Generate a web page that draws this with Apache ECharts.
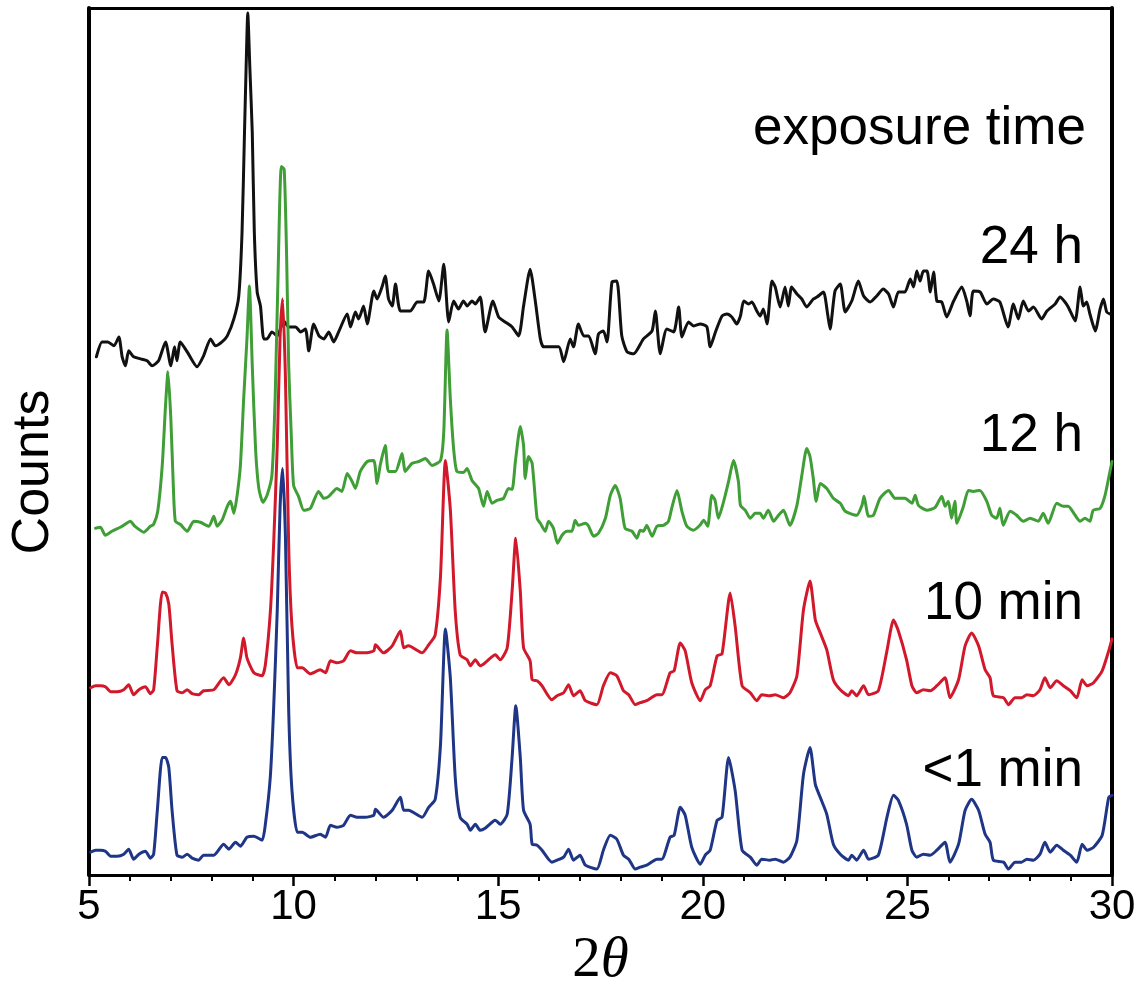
<!DOCTYPE html>
<html>
<head>
<meta charset="utf-8">
<script src="https://cdn.jsdelivr.net/npm/echarts@6/dist/echarts.min.js"></script>
<style>
html,body{margin:0;padding:0;background:#fff;}
#chart{width:1139px;height:995px;}
</style>
</head>
<body>
<div id="chart"></div>
<script>
// ---- data (2θ in degrees, intensity in arbitrary stacked units) ----
const xTicks = [5, 10, 15, 20, 25, 30];
const seriesNames = ['24 h', '12 h', '10 min', '<1 min'];
const titleText = 'exposure time';

const blueX = [5.04,5.16,5.28,5.40,5.53,5.69,5.85,5.97,6.09,6.22,6.38,6.50,6.58,6.67,6.79,6.87,6.95,7.03,7.15,7.28,7.40,7.52,7.68,7.80,8.05,8.29,8.42,8.58,8.70,8.86,9.03,9.23,9.31,9.43,9.51,9.60,9.67,9.73,9.80,9.88,9.96,10.09,10.21,10.41,10.65,10.78,10.90,11.06,11.22,11.39,11.55,11.75,11.96,12.00,12.20,12.41,12.61,12.69,12.81,13.14,13.30,13.46,13.59,13.71,13.83,13.95,14.07,14.24,14.32,14.44,14.56,14.68,14.93,15.05,15.22,15.34,15.43,15.54,15.62,15.78,15.83,15.95,16.07,16.31,16.44,16.60,16.72,16.84,17.00,17.13,17.41,17.57,17.74,17.90,18.06,18.19,18.35,18.47,18.63,18.88,19.00,19.20,19.30,19.45,19.57,19.73,19.94,20.06,20.18,20.35,20.47,20.63,20.79,20.96,21.16,21.32,21.44,21.64,21.77,21.97,22.13,22.30,22.46,22.62,22.75,22.87,23.03,23.19,23.36,23.56,23.64,23.76,23.93,24.05,24.29,24.50,24.66,24.78,24.98,25.11,25.23,25.39,25.56,25.72,25.92,26.04,26.25,26.41,26.57,26.74,26.90,27.02,27.10,27.35,27.47,27.63,27.79,27.92,28.08,28.24,28.36,28.49,28.65,28.81,28.98,29.14,29.27,29.39,29.55,29.76,29.92,30.00];
const blueY = [23,25,25,24,19,19,21,26,16,21,24,17,21,65,118,118,108,65,20,18,21,17,15,20,20,31,26,33,29,38,39,35,51,98,165,265,370,408,340,165,85,43,43,38,41,38,50,48,50,60,58,58,60,66,58,65,78,65,65,58,68,76,131,247,198,98,58,51,45,51,45,47,55,51,61,118,170,118,65,51,31,30,25,13,15,18,26,15,20,10,6,25,40,36,20,16,6,8,10,16,16,38,40,68,60,28,11,20,25,55,58,118,85,25,18,10,16,15,16,13,18,35,101,128,91,78,61,31,21,15,20,15,25,16,20,58,80,75,51,25,18,21,20,25,33,13,31,65,76,65,41,33,15,13,6,13,13,16,15,21,33,23,30,25,20,13,31,25,28,40,78,80];

const redX = [5.04,5.16,5.28,5.40,5.53,5.69,5.85,5.97,6.09,6.22,6.38,6.50,6.58,6.67,6.79,6.87,6.95,7.03,7.15,7.28,7.40,7.52,7.68,7.80,8.05,8.29,8.42,8.58,8.70,8.78,8.86,9.03,9.23,9.31,9.43,9.51,9.60,9.67,9.73,9.80,9.88,9.96,10.09,10.21,10.41,10.65,10.78,10.90,11.06,11.22,11.39,11.55,11.75,11.96,12.00,12.20,12.41,12.61,12.69,12.81,13.14,13.30,13.46,13.59,13.71,13.83,13.95,14.07,14.24,14.32,14.44,14.56,14.68,14.93,15.05,15.22,15.34,15.43,15.54,15.62,15.78,15.83,15.95,16.07,16.31,16.44,16.60,16.72,16.84,17.00,17.13,17.41,17.57,17.74,17.90,18.06,18.19,18.35,18.47,18.63,18.88,19.00,19.20,19.30,19.45,19.57,19.73,19.94,20.06,20.18,20.35,20.47,20.67,20.79,20.96,21.16,21.32,21.44,21.64,21.77,21.97,22.13,22.30,22.46,22.62,22.75,22.87,23.03,23.19,23.36,23.56,23.64,23.76,23.93,24.05,24.29,24.50,24.66,24.78,24.98,25.11,25.23,25.39,25.56,25.72,25.92,26.04,26.25,26.41,26.57,26.74,26.90,27.02,27.10,27.35,27.47,27.63,27.79,27.92,28.08,28.24,28.36,28.49,28.65,28.81,28.98,29.14,29.27,29.39,29.55,29.76,29.92,30.00];
const redY = [188,190,190,189,184,184,186,191,181,186,189,182,186,230,284,283,272,232,185,183,186,182,181,185,186,198,191,201,218,238,218,203,200,211,263,330,430,540,578,500,330,250,208,208,202,206,203,215,213,215,225,223,223,225,231,223,230,245,228,230,223,231,241,300,416,367,265,221,216,210,216,210,213,221,216,228,285,338,285,228,215,196,195,190,176,180,183,191,180,185,175,171,190,203,200,185,181,171,173,175,181,181,203,205,233,225,193,175,186,190,220,222,283,250,190,183,175,181,180,181,178,183,200,266,295,256,243,226,196,186,180,185,180,190,181,185,225,256,245,216,190,183,186,185,190,198,178,196,230,243,230,206,198,180,178,171,178,178,181,180,186,198,188,195,190,185,178,196,190,193,205,225,237];

const greenX = [5.16,5.28,5.40,5.56,5.81,6.01,6.12,6.34,6.50,6.58,6.68,6.79,6.87,6.93,7.00,7.06,7.11,7.23,7.40,7.56,7.72,7.93,8.05,8.13,8.25,8.38,8.46,8.54,8.62,8.70,8.78,8.86,8.92,8.99,9.07,9.15,9.25,9.35,9.47,9.55,9.63,9.70,9.77,9.83,9.88,9.94,10.00,10.12,10.25,10.41,10.61,10.74,10.86,11.06,11.18,11.31,11.43,11.51,11.63,11.80,11.96,12.04,12.12,12.24,12.32,12.49,12.65,12.73,12.89,13.06,13.22,13.38,13.59,13.67,13.75,13.83,13.91,13.99,14.15,14.24,14.36,14.52,14.64,14.73,14.85,14.97,15.13,15.25,15.34,15.42,15.54,15.62,15.66,15.74,15.83,15.95,16.03,16.15,16.23,16.35,16.45,16.56,16.68,16.80,16.88,16.96,17.13,17.21,17.33,17.45,17.62,17.74,17.86,17.98,18.10,18.27,18.39,18.47,18.55,18.63,18.76,18.88,19.04,19.16,19.24,19.37,19.49,19.61,19.77,19.93,20.02,20.12,20.22,20.30,20.38,20.51,20.63,20.75,20.87,20.92,21.04,21.16,21.28,21.40,21.48,21.60,21.73,21.85,21.97,22.13,22.30,22.42,22.54,22.62,22.70,22.77,22.87,23.03,23.19,23.36,23.48,23.76,23.89,23.94,24.05,24.17,24.33,24.54,24.70,24.94,25.11,25.19,25.27,25.48,25.68,25.84,25.92,26.00,26.08,26.16,26.21,26.37,26.49,26.61,26.77,26.94,27.06,27.18,27.26,27.34,27.51,27.67,27.83,28.00,28.20,28.32,28.44,28.65,28.81,28.93,29.10,29.22,29.34,29.46,29.54,29.71,29.83,29.95,30.00];
const greenY = [348,349,341,345,350,355,350,344,350,352,365,411,471,505,458,391,355,352,345,355,354,350,360,350,356,370,375,363,381,411,478,538,591,511,428,388,374,381,401,480,620,711,708,620,511,445,391,380,366,368,385,378,380,388,385,403,395,388,405,415,416,393,412,431,405,405,423,405,413,415,418,411,416,445,547,478,428,405,404,408,396,388,370,385,373,376,378,388,387,415,450,431,398,420,413,358,353,345,355,348,333,341,345,345,356,351,353,350,340,343,358,381,391,378,348,345,338,346,345,351,340,350,351,355,368,386,365,350,346,351,356,350,381,376,358,375,395,416,395,371,366,358,363,363,358,366,355,361,366,351,371,401,428,420,398,375,393,388,378,373,365,361,371,380,360,361,378,386,378,378,373,381,371,366,369,380,370,375,358,375,353,370,386,385,386,375,361,358,368,351,365,361,355,358,355,363,353,373,370,370,361,355,358,355,366,368,381,405,415];

const blackX = [5.18,5.32,5.46,5.61,5.73,5.81,5.89,5.97,6.09,6.26,6.42,6.54,6.70,6.87,7.00,7.09,7.15,7.23,7.40,7.64,7.80,7.97,8.09,8.25,8.38,8.54,8.66,8.74,8.80,8.84,8.88,8.93,8.99,9.04,9.11,9.19,9.27,9.35,9.47,9.60,9.76,9.88,10.05,10.17,10.29,10.37,10.49,10.62,10.74,10.86,10.98,11.10,11.31,11.39,11.51,11.59,11.71,11.80,11.96,12.04,12.16,12.24,12.32,12.41,12.49,12.61,12.85,13.02,13.18,13.30,13.42,13.55,13.67,13.79,13.91,14.03,14.15,14.24,14.36,14.44,14.56,14.68,14.87,15.01,15.17,15.34,15.50,15.62,15.78,15.91,16.03,16.11,16.48,16.60,16.76,16.84,16.96,17.09,17.21,17.37,17.45,17.57,17.66,17.78,17.90,18.02,18.15,18.31,18.55,18.76,18.84,18.96,19.12,19.29,19.41,19.49,19.65,19.78,19.94,20.10,20.18,20.31,20.47,20.59,20.71,20.83,20.92,21.00,21.12,21.20,21.32,21.40,21.48,21.57,21.69,21.77,21.89,22.01,22.09,22.17,22.30,22.42,22.54,22.70,22.79,22.95,23.05,23.11,23.23,23.36,23.48,23.64,23.80,23.93,24.09,24.25,24.41,24.54,24.66,24.78,24.94,25.07,25.15,25.23,25.31,25.39,25.48,25.56,25.64,25.72,25.84,25.96,26.13,26.33,26.45,26.53,26.61,26.78,26.94,27.10,27.26,27.46,27.59,27.71,27.83,27.96,28.08,28.28,28.41,28.61,28.73,28.85,28.93,29.10,29.22,29.30,29.38,29.46,29.59,29.71,29.79,29.87,29.95];
const blackY = [520,535,535,531,540,520,511,526,520,518,516,511,516,535,511,530,516,535,525,510,521,538,531,535,541,558,581,645,745,811,865,811,745,645,585,571,538,538,545,541,556,550,550,545,548,526,553,541,538,545,535,545,563,550,565,558,571,553,586,578,590,601,578,571,593,566,566,575,575,606,593,576,613,555,576,568,576,571,576,573,580,545,576,560,555,550,541,571,608,575,538,530,530,515,538,530,553,541,541,523,543,546,535,595,596,541,525,523,538,546,566,523,548,545,570,540,555,551,553,550,530,545,561,563,560,553,561,576,573,575,566,561,568,553,596,590,570,590,571,590,583,578,570,578,580,585,563,548,586,593,565,576,596,581,575,581,588,583,570,585,585,598,590,606,596,606,606,585,605,576,575,560,576,590,576,561,586,585,573,578,575,550,573,558,576,566,570,558,566,573,580,575,570,556,590,571,575,563,546,568,578,565,563];

function zip(xs, ys) { return xs.map((x, i) => [x, ys[i]]); }

const FONT = '"Liberation Sans", Arial, sans-serif';
const SERIF = '"Liberation Serif", "DejaVu Serif", serif';
const chart = echarts.init(document.getElementById('chart'), null, {renderer: 'canvas'});

function lineSeries(name, xs, ys, color, z) {
  return {name: name, type: 'line', data: zip(xs, ys), showSymbol: false, symbol: 'none',
    smooth: 0.2, lineStyle: {color: color, width: 3, join: 'round', cap: 'round'}, z: z};
}
function label(text, x, y) {
  return {type: 'text', x: x, y: y, style: {text: text, font: '53px ' + FONT, fill: '#000',
    align: 'right', verticalAlign: 'middle', textAlign: 'right', textVerticalAlign: 'middle'}};
}

const option = {
  backgroundColor: '#ffffff',
  animation: false,
  grid: {left: 89, right: 27, top: 8, bottom: 117, containLabel: false},
  xAxis: [{
    type: 'value', min: 5, max: 30, interval: 5,
    axisLine: {show: true, onZero: false, lineStyle: {color: '#000', width: 3}},
    axisTick: {show: true, length: 11, lineStyle: {color: '#000', width: 2.5}},
    minorTick: {show: true, splitNumber: 5, length: 6, lineStyle: {color: '#000', width: 2}},
    splitLine: {show: false},
    axisLabel: {margin: 11, color: '#000', fontSize: 42, fontFamily: FONT},
    name: '{a|2}{b|θ}', nameLocation: 'middle', nameGap: 52,
    nameTextStyle: {rich: {
      a: {fontSize: 57, fontFamily: SERIF, color: '#000'},
      b: {fontSize: 57, fontStyle: 'italic', fontFamily: SERIF, color: '#000'}
    }}
  }, {
    type: 'value', min: 5, max: 30, position: 'top',
    axisLine: {show: true, onZero: false, lineStyle: {color: '#000', width: 3}},
    axisTick: {show: false}, axisLabel: {show: false}, splitLine: {show: false}
  }],
  yAxis: [{
    type: 'value', min: 0, max: 870,
    axisLine: {show: true, onZero: false, lineStyle: {color: '#000', width: 4}},
    axisTick: {show: false}, axisLabel: {show: false}, splitLine: {show: false}
  }, {
    type: 'value', min: 0, max: 870, position: 'right',
    axisLine: {show: true, onZero: false, lineStyle: {color: '#000', width: 4}},
    axisTick: {show: false}, axisLabel: {show: false}, splitLine: {show: false}
  }],
  series: [
    lineSeries(seriesNames[0], blackX, blackY, '#111111', 2),
    lineSeries(seriesNames[1], greenX, greenY, '#3f9e36', 3),
    lineSeries(seriesNames[2], redX, redY, '#d2192b', 4),
    lineSeries(seriesNames[3], blueX, blueY, '#1f3586', 5)
  ],
  graphic: [
    label(titleText, 1086, 129),
    label(seriesNames[0], 1083, 248),
    label(seriesNames[1], 1083, 436),
    label(seriesNames[2], 1083, 604),
    label(seriesNames[3], 1083, 771),
    {type: 'text', x: 34, y: 472, rotation: Math.PI / 2, style: {text: 'Counts', font: '52px ' + FONT, fill: '#000',
      align: 'center', verticalAlign: 'middle', textAlign: 'center', textVerticalAlign: 'middle'}}
  ]
};
chart.setOption(option);
</script>
</body>
</html>
